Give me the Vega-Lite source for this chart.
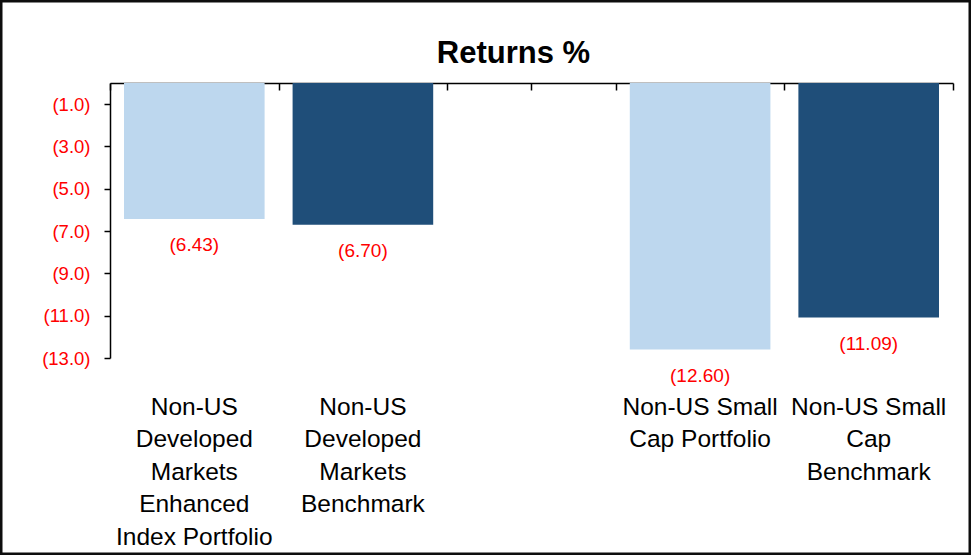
{
  "$schema": "https://vega.github.io/schema/vega-lite/v6.json",
  "width": 971,
  "height": 555,
  "autosize": "none",
  "padding": 0,
  "background": "#ffffff",
  "title": {
    "text": "Returns %",
    "font": "Liberation Sans",
    "fontSize": 31,
    "fontWeight": "bold",
    "color": "#000000",
    "anchor": "middle",
    "frame": "group",
    "dx": 28,
    "dy": 31,
    "offset": -63,
    "baseline": "alphabetic"
  },
  "data": {
    "values": [
      {"category": "Non-US Developed Markets Enhanced Index Portfolio", "type": "Portfolio", "value": -6.43},
      {"category": "Non-US Developed Markets Benchmark", "type": "Benchmark", "value": -6.70},
      {"category": "Non-US Small Cap Portfolio", "type": "Portfolio", "value": -12.60},
      {"category": "Non-US Small Cap Benchmark", "type": "Benchmark", "value": -11.09}
    ]
  },
  "encoding": {
    "y": {
      "field": "value",
      "type": "quantitative",
      "scale": {"domain": [-13, 0], "range": [358, 83], "nice": false},
      "axis": {
        "title": null,
        "offset": -110,
        "values": [-1, -3, -5, -7, -9, -11, -13],
        "format": "(.1f",
        "grid": false,
        "labelColor": "#FF0000",
        "labelFont": "Liberation Sans",
        "labelFontSize": 18.5,
        "labelPadding": 14,
        "tickSize": 6,
        "tickColor": "#000000",
        "tickWidth": 1.5,
        "domainColor": "#000000",
        "domainWidth": 1.5
      }
    }
  },
  "layer": [
    {
      "mark": {"type": "bar", "width": {"band": 0.834}},
      "encoding": {
        "x": {
          "field": "category",
          "type": "nominal",
          "sort": null,
          "scale": {
            "domain": ["Non-US Developed Markets Enhanced Index Portfolio", "Non-US Developed Markets Benchmark", " ", "Non-US Small Cap Portfolio", "Non-US Small Cap Benchmark"],
            "range": [110, 953],
            "paddingInner": 0,
            "paddingOuter": 0
          },
          "axis": {
            "orient": "top",
            "offset": -83,
            "title": null,
            "labels": false,
            "tickBand": "extent",
            "tickSize": -7,
            "tickColor": "#000000",
            "tickWidth": 1.5,
            "domainColor": "#000000",
            "domainWidth": 1.5,
            "grid": false
          }
        },
        "y2": {"datum": 0},
        "color": {
          "field": "type",
          "type": "nominal",
          "scale": {"domain": ["Portfolio", "Benchmark"], "range": ["#BDD7EE", "#1F4E79"]},
          "legend": null
        }
      }
    },
    {
      "mark": {"type": "text", "baseline": "top", "dy": 17, "font": "Liberation Sans", "fontSize": 19, "color": "#FF0000"},
      "encoding": {
        "x": {
          "field": "category",
          "type": "nominal",
          "sort": null,
          "axis": {
            "orient": "top",
            "offset": -83,
            "title": null,
            "labels": false,
            "domain": false,
            "tickSize": -7,
            "tickColor": "#000000",
            "tickWidth": 1.5,
            "grid": false
          }
        },
        "text": {"field": "value", "type": "quantitative", "format": "(.2f"}
      }
    },
    {
      "mark": {"type": "bar", "opacity": 0, "width": {"band": 0.834}},
      "encoding": {
        "x": {
          "field": "category",
          "type": "nominal",
          "sort": null,
          "axis": {
            "orient": "bottom",
            "offset": -197,
            "title": null,
            "domain": false,
            "ticks": false,
            "grid": false,
            "labelAngle": 0,
            "labelFont": "Liberation Sans",
            "labelFontSize": 24.5,
            "labelColor": "#000000",
            "labelPadding": 37,
            "labelBaseline": "top",
            "labelLineHeight": 32.5,
            "labelLimit": 400,
            "labelOverlap": false,
            "labelExpr": "datum.value == 'Non-US Developed Markets Enhanced Index Portfolio' ? ['Non-US', 'Developed', 'Markets', 'Enhanced', 'Index Portfolio'] : datum.value == 'Non-US Developed Markets Benchmark' ? ['Non-US', 'Developed', 'Markets', 'Benchmark'] : datum.value == 'Non-US Small Cap Portfolio' ? ['Non-US Small', 'Cap Portfolio'] : datum.value == 'Non-US Small Cap Benchmark' ? ['Non-US Small', 'Cap', 'Benchmark'] : ''"
          }
        },
        "y2": {"datum": 0}
      }
    }
  ],
  "resolve": {"axis": {"x": "independent"}},
  "config": {
    "view": {"stroke": "#0d0d0d", "strokeWidth": 5}
  }
}
